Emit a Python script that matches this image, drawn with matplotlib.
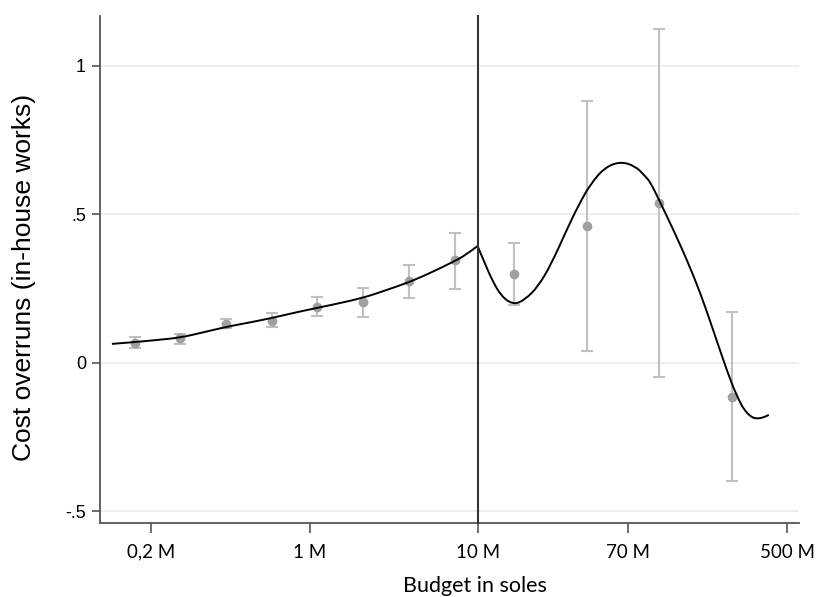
import matplotlib
matplotlib.use('Agg')
import matplotlib.pyplot as plt
from matplotlib.path import Path
from matplotlib.patches import PathPatch
import numpy as np

# x positions are in log-budget units (axis labelled in millions of soles)
tick_pos = [12, 14, 16.11, 18, 20]
tick_labels = ['0,2 M', '1 M', '10 M', '70 M', '500 M']
cutoff = 16.11  # 10 M threshold

# binned means with confidence intervals
bin_x = [11.80, 12.37, 12.94, 13.52, 14.09, 14.67, 15.24, 15.82,
         16.57, 17.48, 18.39, 19.31]
bin_mean = [0.067, 0.084, 0.131, 0.142, 0.189, 0.205, 0.276, 0.345,
            0.300, 0.461, 0.539, -0.114]
ci_low = [0.051, 0.064, 0.118, 0.121, 0.158, 0.155, 0.219, 0.250,
          0.195, 0.040, -0.047, -0.397]
ci_high = [0.088, 0.098, 0.148, 0.168, 0.222, 0.253, 0.330, 0.439,
           0.404, 0.882, 1.125, 0.172]

# fitted curve, below the cutoff
fit_left_x = [11.51, 11.80, 12.07, 12.37, 12.66, 12.96, 13.24, 13.52, 13.87,
              14.27, 14.67, 14.96, 15.26, 15.53, 15.80, 15.97, 16.11]
fit_left_y = [0.064, 0.070, 0.077, 0.085, 0.103, 0.122, 0.136, 0.151, 0.173,
              0.195, 0.219, 0.245, 0.273, 0.305, 0.340, 0.365, 0.394]

# fitted curve, above the cutoff
fit_right_x = [16.11, 16.20, 16.29, 16.41, 16.56, 16.70, 16.87, 17.04, 17.21,
               17.38, 17.54, 17.71, 17.90, 18.09, 18.21, 18.28, 18.40, 18.57,
               18.74, 18.91, 19.07, 19.24, 19.37, 19.49, 19.64, 19.77]
fit_right_y = [0.392, 0.335, 0.279, 0.223, 0.196, 0.212, 0.257, 0.336, 0.437,
               0.533, 0.607, 0.658, 0.678, 0.663, 0.630, 0.609, 0.543, 0.448,
               0.347, 0.235, 0.111, -0.024, -0.114, -0.172, -0.194, -0.175]


def smooth_path(xs, ys):
    # quadratic bezier through the read points, so the line is not jagged
    pts = list(zip(xs, ys))
    verts = [pts[0]]
    codes = [Path.MOVETO]
    for i in range(1, len(pts) - 1):
        mid = ((pts[i][0] + pts[i + 1][0]) / 2, (pts[i][1] + pts[i + 1][1]) / 2)
        if i == len(pts) - 2:
            mid = pts[-1]
        verts += [pts[i], mid]
        codes += [Path.CURVE3, Path.CURVE3]
    return Path(verts, codes)


fig = plt.figure(figsize=(8.17, 5.97), dpi=100)
ax = fig.add_axes([0.1224, 0.124, 0.8556, 0.8492])

yticks = [-0.5, 0, 0.5, 1]
for yt in yticks:
    ax.axhline(yt, color='#ebebeb', lw=1.2, zorder=0)

yerr = [np.array(bin_mean) - np.array(ci_low), np.array(ci_high) - np.array(bin_mean)]
ax.errorbar(bin_x, bin_mean, yerr=yerr, fmt='o', color='#a0a0a0', ms=6,
            ecolor='#c0c0c0', elinewidth=1.5, capsize=4.5, capthick=1.5, zorder=2)

for xs, ys in [(fit_left_x, fit_left_y), (fit_right_x, fit_right_y)]:
    ax.add_patch(PathPatch(smooth_path(xs, ys), facecolor='none',
                           edgecolor='black', lw=1.4, zorder=3))

ax.axvline(cutoff, color='#333333', lw=1.5, zorder=4, clip_on=False)

ax.set_xlim(11.36, 20.15)
ax.set_ylim(-0.539, 1.168)

ax.set_yticks(yticks)
ax.set_yticklabels(['-.5', '0', '.5', '1'], fontsize=13, family='Liberation Sans')
ax.set_xticks(tick_pos)
ax.set_xticklabels(tick_labels, fontsize=13.5, family='Lato')

ax.set_ylabel('Cost overruns (in-house works)', fontsize=19, family='Liberation Sans')
ax.yaxis.set_label_coords(-0.092, 0.485)
ax.set_xlabel('Budget in soles', fontsize=15.5, family='Lato')
ax.xaxis.set_label_coords(0.536, -0.105)

for s in ['top', 'right']:
    ax.spines[s].set_visible(False)
for s in ['left', 'bottom']:
    ax.spines[s].set_color('#555555')
    ax.spines[s].set_linewidth(1.3)
ax.tick_params(axis='x', length=7, width=1.2, color='#555555', pad=8)
ax.tick_params(axis='y', length=6, width=1.2, color='#555555', pad=4)

fig.savefig('out.png', dpi=100)
